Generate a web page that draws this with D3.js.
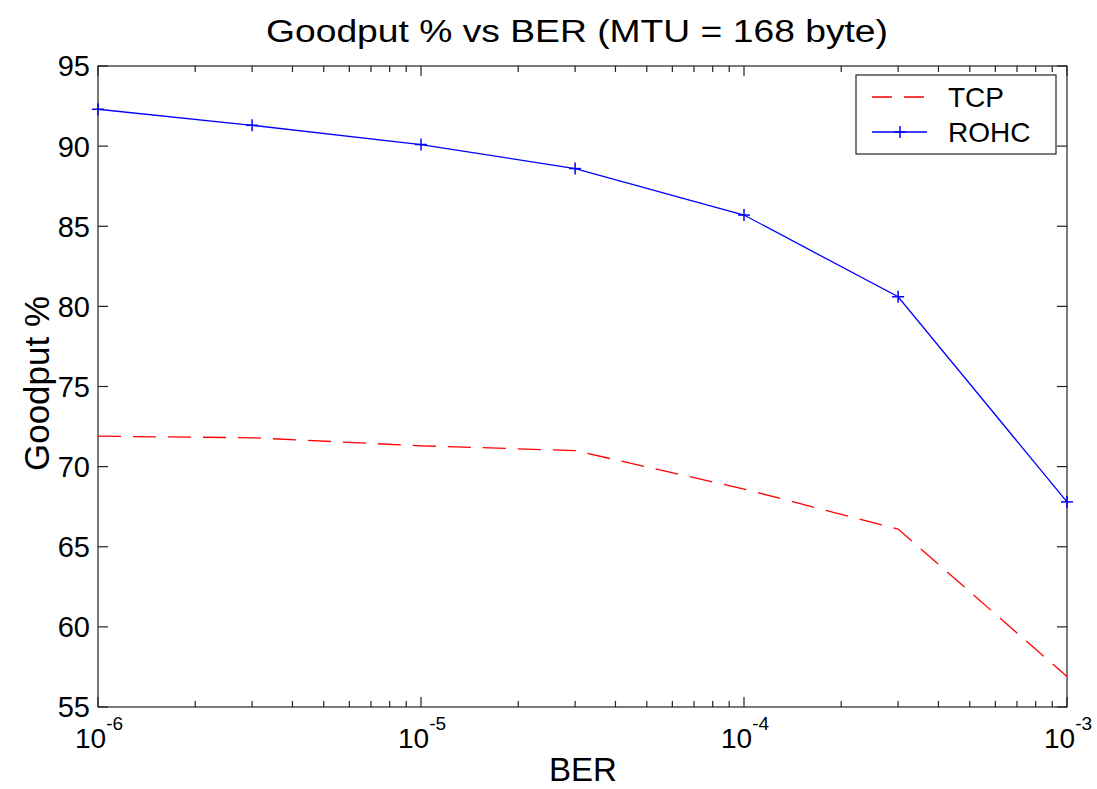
<!DOCTYPE html>
<html><head><meta charset="utf-8">
<script src="https://cdn.jsdelivr.net/npm/d3@7"></script>
<style>body{margin:0;background:#fff}svg{display:block}text{font-family:"Liberation Sans",Arial,sans-serif;fill:#000}</style>
</head><body>
<script>
const ber = [1e-6, 3e-6, 1e-5, 3e-5, 1e-4, 3e-4, 1e-3];
const tcp = [71.9, 71.8, 71.3, 71.0, 68.6, 66.1, 56.9];
const rohc = [92.3, 91.3, 90.1, 88.6, 85.7, 80.6, 67.8];
const yTicks = [55, 60, 65, 70, 75, 80, 85, 90, 95];
const xMajor = [1e-6, 1e-5, 1e-4, 1e-3];
const xExp = ["-6", "-5", "-4", "-3"];
const seriesNames = ["TCP", "ROHC"];

const W = 1097, H = 789;
const m = {l: 98, r: 1067, t: 66, b: 707};
const svg = d3.select("body").append("svg").attr("width", W).attr("height", H);
const x = d3.scaleLog().domain([1e-6, 1e-3]).range([m.l, m.r]);
const y = d3.scaleLinear().domain([55, 95]).range([m.b, m.t]);

const minor = [];
for (let e = -6; e < -3; e++) for (let k = 2; k <= 9; k++) minor.push(k * Math.pow(10, e));

const ax = svg.append("g").attr("stroke", "#222").attr("stroke-width", 1.2).attr("fill", "none");
ax.append("rect").attr("x", m.l).attr("y", m.t).attr("width", m.r - m.l).attr("height", m.b - m.t);
yTicks.forEach(v => {
  ax.append("line").attr("x1", m.l).attr("x2", m.l + 10).attr("y1", y(v)).attr("y2", y(v));
  ax.append("line").attr("x1", m.r).attr("x2", m.r - 10).attr("y1", y(v)).attr("y2", y(v));
});
xMajor.forEach(v => {
  ax.append("line").attr("x1", x(v)).attr("x2", x(v)).attr("y1", m.b).attr("y2", m.b - 10);
  ax.append("line").attr("x1", x(v)).attr("x2", x(v)).attr("y1", m.t).attr("y2", m.t + 10);
});
minor.forEach(v => {
  ax.append("line").attr("x1", x(v)).attr("x2", x(v)).attr("y1", m.b).attr("y2", m.b - 6);
  ax.append("line").attr("x1", x(v)).attr("x2", x(v)).attr("y1", m.t).attr("y2", m.t + 6);
});

svg.append("g").selectAll("text").data(yTicks).join("text")
  .attr("x", m.l - 8).attr("y", d => y(d)).attr("dy", "0.36em")
  .attr("text-anchor", "end").attr("font-size", 29).text(d => d);

xMajor.forEach((v, i) => {
  const t = svg.append("text").attr("x", x(v) + 1).attr("y", 748).attr("text-anchor", "middle").attr("font-size", 28);
  t.append("tspan").text("10");
  t.append("tspan").attr("dy", -18).attr("font-size", 19).text(xExp[i]);
});

svg.append("text").attr("x", 577).attr("y", 42).attr("text-anchor", "middle").attr("font-size", 31)
  .attr("textLength", 622).attr("lengthAdjust", "spacingAndGlyphs")
  .text("Goodput % vs BER (MTU = 168 byte)");
svg.append("text").attr("x", 583).attr("y", 781).attr("text-anchor", "middle").attr("font-size", 33).text("BER");
svg.append("text").attr("transform", `translate(49,${(m.t + m.b) / 2 - 3}) rotate(-90)`).attr("text-anchor", "middle").attr("font-size", 35).text("Goodput %");

const line = d3.line().x(d => x(d[0])).y(d => y(d[1]));
svg.append("path").datum(ber.map((b, i) => [b, tcp[i]])).attr("d", line)
  .attr("fill", "none").attr("stroke", "#ff0000").attr("stroke-width", 1.3).attr("stroke-dasharray", "23,12");
svg.append("path").datum(ber.map((b, i) => [b, rohc[i]])).attr("d", line)
  .attr("fill", "none").attr("stroke", "#0000ff").attr("stroke-width", 1.3);
const plus = (g, cx, cy) => {
  g.append("line").attr("x1", cx - 6).attr("x2", cx + 6).attr("y1", cy).attr("y2", cy);
  g.append("line").attr("x1", cx).attr("x2", cx).attr("y1", cy - 6).attr("y2", cy + 6);
};
const mk = svg.append("g").attr("stroke", "#0000ff").attr("stroke-width", 1.5);
ber.forEach((b, i) => plus(mk, x(b), y(rohc[i])));

const lg = svg.append("g");
lg.append("rect").attr("x", 856).attr("y", 75).attr("width", 200).attr("height", 79)
  .attr("fill", "#fff").attr("stroke", "#222").attr("stroke-width", 1.2);
lg.append("line").attr("x1", 872).attr("x2", 927).attr("y1", 97).attr("y2", 97)
  .attr("stroke", "#ff0000").attr("stroke-width", 1.3).attr("stroke-dasharray", "20,12");
lg.append("line").attr("x1", 872).attr("x2", 927).attr("y1", 132).attr("y2", 132)
  .attr("stroke", "#0000ff").attr("stroke-width", 1.3);
plus(lg.append("g").attr("stroke", "#0000ff").attr("stroke-width", 1.5), 900, 132);
lg.selectAll("text.l").data(seriesNames).join("text").attr("class", "l")
  .attr("x", 948).attr("y", (d, i) => 107 + i * 35).attr("font-size", 28).text(d => d);
</script>
</body></html>
